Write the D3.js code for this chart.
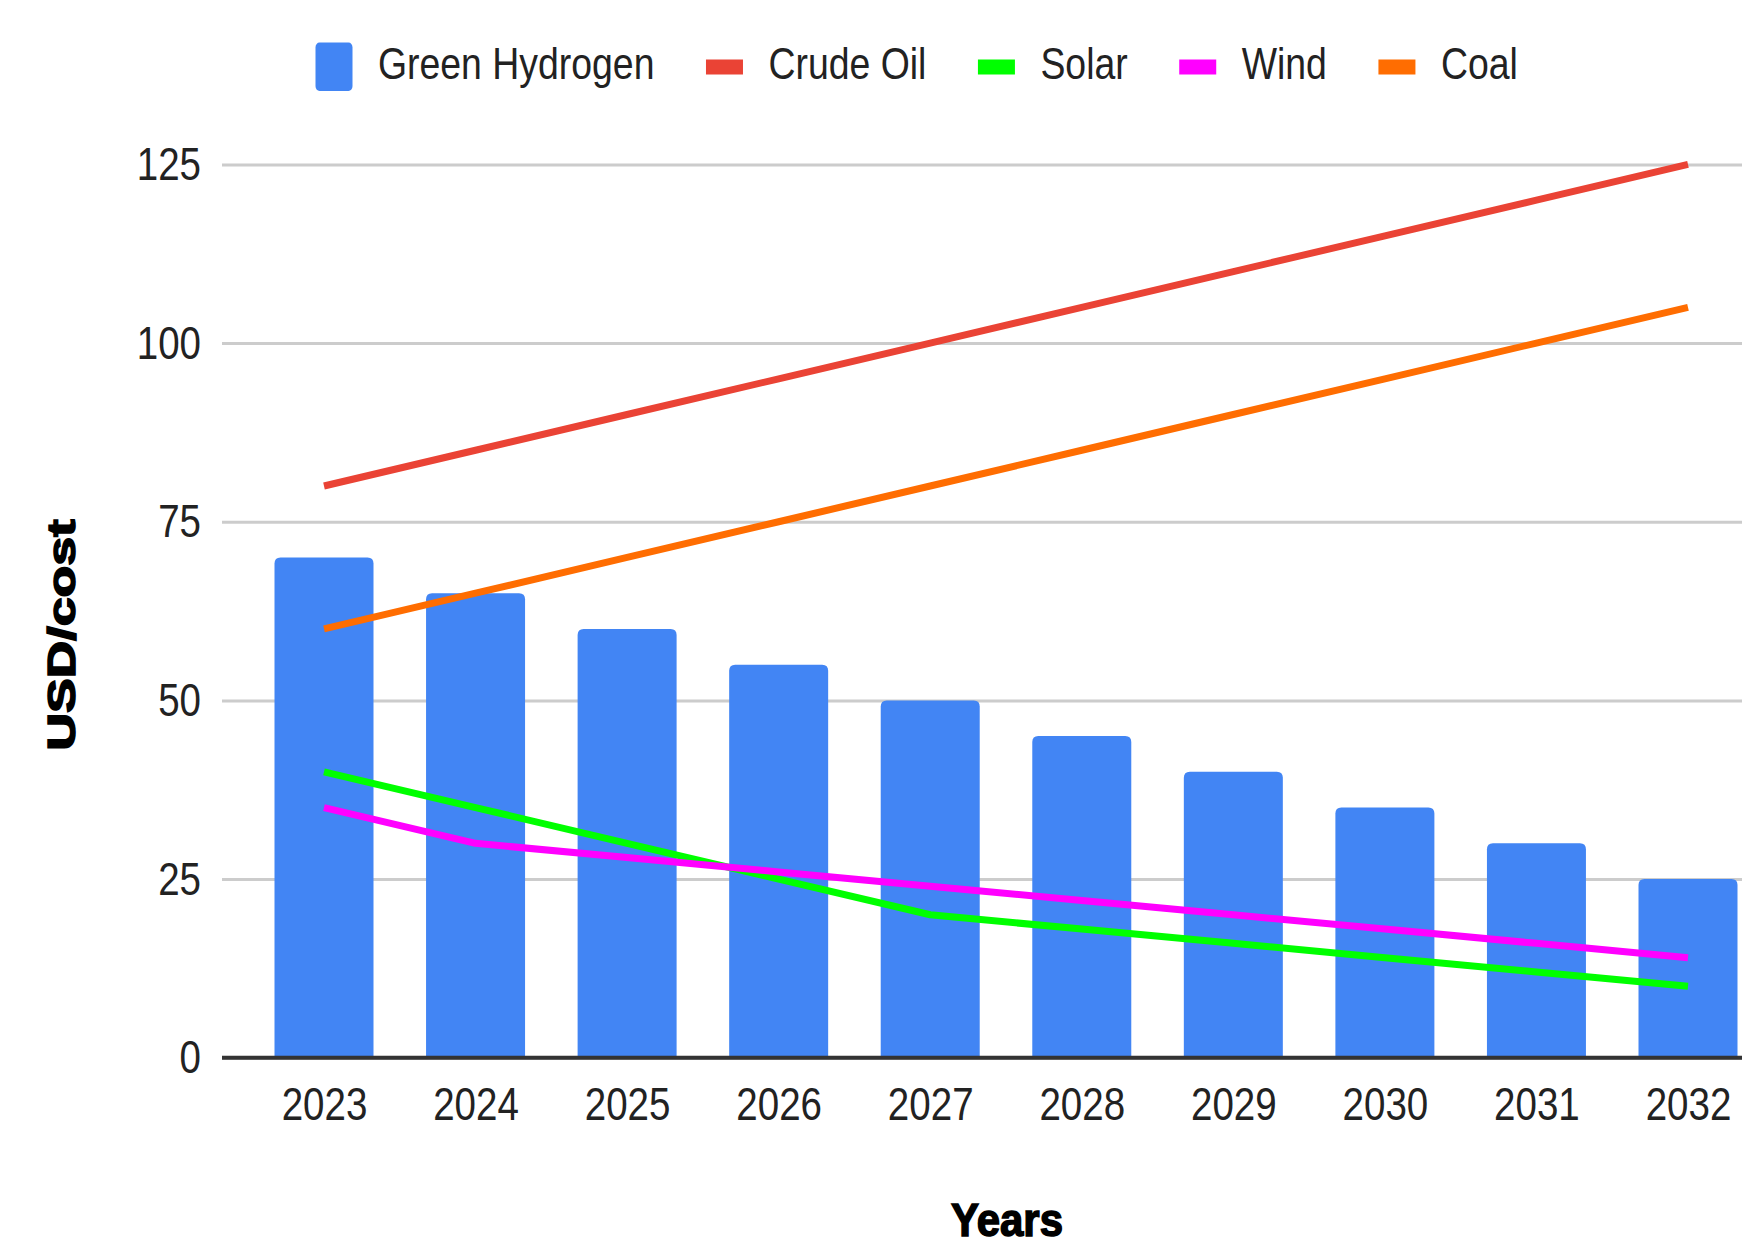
<!DOCTYPE html>
<html>
<head>
<meta charset="utf-8">
<script src="https://cdn.jsdelivr.net/npm/d3@7"></script>
<style>
  html, body { margin: 0; padding: 0; background: #fff; }
  svg { display: block; }
</style>
</head>
<body>
<svg id="chart" width="1742" height="1244"></svg>
<script>
// ---- data ----
const years = ["2023","2024","2025","2026","2027","2028","2029","2030","2031","2032"];
const greenHydrogen = [70, 65, 60, 55, 50, 45, 40, 35, 30, 25];
const crudeOil = [80, 85, 90, 95, 100, 105, 110, 115, 120, 125];
const solar = [40, 35, 30, 25, 20, 18, 16, 14, 12, 10];
const wind = [35, 30, 28, 26, 24, 22, 20, 18, 16, 14];
const coal = [60, 65, 70, 75, 80, 85, 90, 95, 100, 105];
const yTicks = [0, 25, 50, 75, 100, 125];
const seriesNames = ["Green Hydrogen", "Crude Oil", "Solar", "Wind", "Coal"];
const xTitle = "Years";
const yTitle = "USD/cost";

// ---- styles / layout ----
const colors = {
  "Green Hydrogen": "#4285F4",
  "Crude Oil": "#EA4335",
  "Solar": "#00FF00",
  "Wind": "#FF00FF",
  "Coal": "#FF6D01"
};
const plotLeft = 222, plotRight = 1742, plotTop = 164.4, plotBottom = 1057.7;
const barWidth = 99;
const font = "'Liberation Sans', Arial, sans-serif";
const sxTick = 0.82, sxLegend = 0.85;

const svg = d3.select("#chart");

const x = d3.scalePoint().domain(years).range([324, 1688]);
const y = d3.scaleLinear().domain([0, 125]).range([plotBottom, plotTop]);

// gridlines + y labels
const yAxis = svg.append("g")
  .attr("transform", `translate(${plotLeft},0)`)
  .call(d3.axisLeft(y).tickValues(yTicks).tickSize(-(plotRight - plotLeft)).tickPadding(21));
yAxis.select(".domain").remove();
yAxis.selectAll(".tick line").attr("stroke", "#cccccc").attr("stroke-width", 3);
yAxis.selectAll(".tick text")
  .attr("x", -21 / sxTick)
  .attr("transform", `scale(${sxTick},1)`)
  .attr("font-family", font)
  .attr("font-size", 47)
  .attr("fill", "#222");

// bars with rounded top corners
function barPath(cx, v) {
  const x0 = cx - barWidth / 2, x1 = cx + barWidth / 2;
  const yt = y(v), yb = y(0), r = 6;
  return `M${x0},${yb} L${x0},${yt + r} Q${x0},${yt} ${x0 + r},${yt} L${x1 - r},${yt} Q${x1},${yt} ${x1},${yt + r} L${x1},${yb} Z`;
}
svg.append("g").selectAll("path")
  .data(greenHydrogen)
  .join("path")
  .attr("d", (d, i) => barPath(x(years[i]), d))
  .attr("fill", colors["Green Hydrogen"]);

// baseline
svg.append("line")
  .attr("x1", plotLeft).attr("x2", plotRight)
  .attr("y1", y(0)).attr("y2", y(0))
  .attr("stroke", "#333").attr("stroke-width", 4);

// lines
const lineSeries = [
  ["Crude Oil", crudeOil],
  ["Solar", solar],
  ["Wind", wind],
  ["Coal", coal]
];
const lineGen = d3.line().x((d, i) => x(years[i])).y(d => y(d));
svg.append("g").selectAll("path")
  .data(lineSeries)
  .join("path")
  .attr("d", d => lineGen(d[1]))
  .attr("fill", "none")
  .attr("stroke", d => colors[d[0]])
  .attr("stroke-width", 7)
  .attr("stroke-linejoin", "round")
  .attr("stroke-linecap", "butt");

// x axis labels
const xAxis = svg.append("g")
  .attr("transform", `translate(0,${plotBottom})`)
  .call(d3.axisBottom(x).tickSize(0).tickPadding(29));
xAxis.select(".domain").remove();
xAxis.selectAll(".tick text")
  .attr("transform", `scale(${sxTick},1)`)
  .attr("font-family", font)
  .attr("font-size", 47)
  .attr("fill", "#222");

// axis titles
svg.append("text")
  .attr("x", 1007).attr("y", 1236)
  .attr("text-anchor", "middle")
  .attr("font-family", font).attr("font-weight", "bold")
  .attr("font-size", 46)
  .attr("textLength", 112).attr("lengthAdjust", "spacingAndGlyphs")
  .attr("fill", "#000").attr("stroke", "#000").attr("stroke-width", 1.5)
  .text(xTitle);
svg.append("text")
  .attr("transform", "translate(75,635) rotate(-90)")
  .attr("text-anchor", "middle")
  .attr("font-family", font).attr("font-weight", "bold")
  .attr("font-size", 38)
  .attr("textLength", 231).attr("lengthAdjust", "spacingAndGlyphs")
  .attr("fill", "#000").attr("stroke", "#000").attr("stroke-width", 1.5)
  .text(yTitle);

// legend
const legend = svg.append("g");
let lx = 315.5;
seriesNames.forEach((name, i) => {
  const isBar = i === 0;
  if (isBar) {
    legend.append("rect")
      .attr("x", lx).attr("y", 42.5).attr("width", 37).attr("height", 48.5)
      .attr("rx", 4).attr("ry", 5)
      .attr("fill", colors[name]);
  } else {
    legend.append("rect")
      .attr("x", lx).attr("y", 59.5).attr("width", 37).attr("height", 15)
      .attr("fill", colors[name]);
  }
  const tx = lx + 37 + 25.5;
  const t = legend.append("text")
    .attr("x", tx / sxLegend).attr("y", 79)
    .attr("transform", `scale(${sxLegend},1)`)
    .attr("font-family", font)
    .attr("font-size", 44)
    .attr("fill", "#222")
    .text(name);
  const tw = t.node().getComputedTextLength() * sxLegend;
  lx = tx + tw + 51.5;
});
</script>
</body>
</html>
